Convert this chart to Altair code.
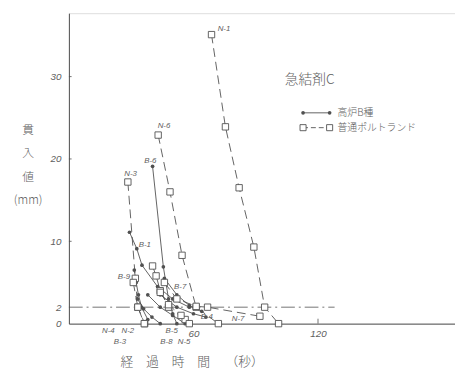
import altair as alt
import pandas as pd

# ---- data ----
BLAST = {  # 高炉B種: solid line, filled dots
    "B-1": ([29.2, 32.7, 35.2, 42.7, 50.0, 58.0], [11.1, 9.1, 7.1, 4.5, 3.0, 2.0]),
    "B-6": ([40.3, 45.5, 48.0, 50.0, 52.0], [19.1, 6.9, 3.0, 1.2, 0.0]),
    "B-9": ([31.5, 32.4, 33.5, 35.0, 38.0], [6.5, 5.0, 3.5, 2.0, 0.5]),
    "B-7": ([46.0, 52.0, 58.0, 64.0], [5.5, 3.5, 2.2, 1.5]),
    "B-4": ([44.0, 52.0, 60.0, 66.0], [3.5, 2.0, 1.2, 0.8]),
    "B-3": ([33.0, 36.0, 40.0, 44.0], [3.0, 1.8, 0.8, 0.0]),
    "B-8": ([38.0, 44.0, 50.0, 56.0], [3.5, 2.0, 1.0, 0.0]),
}
PORTLAND = {  # 普通ポルトランド: dashed line, open squares
    "N-1": ([68.7, 75.4, 82.0, 89.1, 94.3, 101.0], [35.1, 23.9, 16.5, 9.3, 2.0, 0.0]),
    "N-3": ([28.4, 32.0, 33.2, 36.5], [17.2, 5.5, 2.0, 0.0]),
    "N-6": ([43.0, 48.7, 54.5, 61.3, 72.0], [22.9, 16.0, 8.3, 2.0, 0.0]),
    "N-2": ([40.3, 42.0, 44.0, 48.0, 56.0], [7.0, 5.8, 4.0, 2.0, 0.5]),
    "N-4": ([31.0, 33.2, 36.3], [5.0, 2.0, 0.0]),
    "N-5": ([44.0, 48.0, 54.0, 58.0], [3.8, 2.3, 1.0, 0.0]),
    "N-7": ([46.0, 52.0, 61.3, 66.8, 92.0], [5.0, 3.0, 2.1, 2.0, 0.9]),
}
LABELS = ["N-1", "N-6", "B-6", "N-3", "B-1", "B-9", "B-7", "B-4", "N-7",
          "N-4", "N-2", "B-5", "B-3", "B-8", "N-5"]
LABEL_T = [74.7, 45.8, 39.2, 29.7, 36.6, 26.5, 53.6, 66.4, 81.5,
           19.0, 28.4, 49.5, 24.6, 47.0, 55.5]
LABEL_V = [35.8, 24.0, 19.8, 18.2, 9.6, 5.6, 4.5, 0.8, 0.5,
           -0.9, -0.9, -0.9, -2.2, -2.2, -2.2]
Y_TICKS = [0, 2, 10, 20, 30]
X_TICKS = [60, 120]
REF_LEVEL = 2
REF_END = 128
TITLE = "急結剤C"
LEGEND_NAMES = ["高炉B種", "普通ポルトランド"]

INK = "#505050"
TXT = "#606060"

rows = []
for grp, d in (("B", BLAST), ("N", PORTLAND)):
    for name, (ts, vs) in d.items():
        for i, (t, v) in enumerate(zip(ts, vs)):
            rows.append({"series": name, "grp": grp, "t": t, "v": v, "o": i})
df = pd.DataFrame(rows)

xs = alt.Scale(domain=[0, 186], nice=False)
ys = alt.Scale(domain=[0, 37.7], nice=False)

base = alt.Chart(df)

blast_line = base.transform_filter(alt.datum.grp == "B").mark_line(
    color=INK, strokeWidth=0.9
).encode(
    x=alt.X("t:Q", scale=xs, axis=alt.Axis(
        values=X_TICKS, title="経　過　時　間　 （秒）", domainColor=INK, domainWidth=1,
        tickSize=0, labelPadding=5, grid=False, labelFont="Liberation Sans",
        labelFontStyle="italic", labelFontSize=10, labelColor=TXT,
        titleFont="Noto Sans CJK JP", titleFontSize=13, titleFontWeight=300,
        titleColor=TXT, titleX=125, titleY=39, titleBaseline="middle")),
    y=alt.Y("v:Q", scale=ys, axis=alt.Axis(
        values=Y_TICKS, title=["貫", "入", "値", "(mm)"], titleAngle=0,
        titleX=-42, titleY=113, titleAlign="center", titleBaseline="top",
        titleLineHeight=24, titleFont="Noto Sans CJK JP", titleFontSize=12,
        titleFontWeight=300, titleColor=TXT, domainColor=INK, domainWidth=1,
        tickSize=0, labelPadding=8, grid=False, labelFont="Liberation Sans",
        labelFontStyle="italic", labelFontSize=10, labelColor=TXT)),
    detail="series:N", order="o:Q",
)
blast_pts = base.transform_filter(alt.datum.grp == "B").mark_point(
    shape="circle", filled=True, color=INK, size=14, opacity=1
).encode(x=alt.X("t:Q", scale=xs), y=alt.Y("v:Q", scale=ys))

port_line = base.transform_filter(alt.datum.grp == "N").mark_line(
    color=INK, strokeWidth=0.9, strokeDash=[9, 5]
).encode(x=alt.X("t:Q", scale=xs), y=alt.Y("v:Q", scale=ys),
         detail="series:N", order="o:Q")
port_pts = base.transform_filter(alt.datum.grp == "N").mark_point(
    shape="square", filled=True, fill="white", stroke=INK, strokeWidth=0.9,
    size=42, opacity=1
).encode(x=alt.X("t:Q", scale=xs), y=alt.Y("v:Q", scale=ys))

ref = alt.Chart(pd.DataFrame({"t": [0], "t2": [REF_END], "v": [REF_LEVEL]})).mark_rule(
    color=INK, strokeWidth=0.8, strokeDash=[14, 4, 2, 4]
).encode(x=alt.X("t:Q", scale=xs), x2="t2:Q", y=alt.Y("v:Q", scale=ys))

yticks = alt.Chart(pd.DataFrame({"v": [10, 20, 30]})).mark_rule(
    color=INK, strokeWidth=0.8
).encode(x=alt.datum(0, scale=xs), x2=alt.datum(1.3), y=alt.Y("v:Q", scale=ys))
xticks = alt.Chart(pd.DataFrame({"t": [120]})).mark_rule(
    color=INK, strokeWidth=0.8
).encode(x=alt.X("t:Q", scale=xs), y=alt.datum(0, scale=ys), y2=alt.datum(0.6))

lab_df = pd.DataFrame({"label": LABELS, "t": LABEL_T, "v": LABEL_V})
labels = alt.Chart(lab_df).mark_text(
    font="Liberation Sans", fontStyle="italic", fontSize=8, color=TXT, align="center"
).encode(x=alt.X("t:Q", scale=xs), y=alt.Y("v:Q", scale=ys), text="label:N")

title = alt.Chart(pd.DataFrame({"t": [116], "v": [29.6], "s": [TITLE]})).mark_text(
    font="Noto Sans CJK JP", fontSize=14, fontWeight=300, color=TXT, align="center"
).encode(x=alt.X("t:Q", scale=xs), y=alt.Y("v:Q", scale=ys), text="s:N")

# legend built from the same data scales
leg_line = pd.DataFrame({"grp": ["B", "B", "N", "N"], "t": [112.8, 125.6, 112.8, 125.6],
                         "v": [25.6, 25.6, 23.8, 23.8]})
leg_b = alt.Chart(leg_line).transform_filter(alt.datum.grp == "B")
leg_n = alt.Chart(leg_line).transform_filter(alt.datum.grp == "N")
lb_line = leg_b.mark_line(color=INK, strokeWidth=0.9).encode(
    x=alt.X("t:Q", scale=xs), y=alt.Y("v:Q", scale=ys))
lb_pts = leg_b.mark_point(shape="circle", filled=True, color=INK, size=14, opacity=1).encode(
    x=alt.X("t:Q", scale=xs), y=alt.Y("v:Q", scale=ys))
ln_line = leg_n.mark_line(color=INK, strokeWidth=0.9, strokeDash=[5, 3]).encode(
    x=alt.X("t:Q", scale=xs), y=alt.Y("v:Q", scale=ys))
ln_pts = leg_n.mark_point(shape="square", filled=True, fill="white", stroke=INK,
                          strokeWidth=0.9, size=38, opacity=1).encode(
    x=alt.X("t:Q", scale=xs), y=alt.Y("v:Q", scale=ys))
leg_txt = alt.Chart(pd.DataFrame({"t": [129.4, 129.4], "v": [25.6, 23.8],
                                  "s": LEGEND_NAMES})).mark_text(
    font="Noto Sans CJK JP", fontSize=10, fontWeight=300, color=TXT, align="left",
    baseline="middle"
).encode(x=alt.X("t:Q", scale=xs), y=alt.Y("v:Q", scale=ys), text="s:N")

chart = alt.layer(
    blast_line, port_line, ref, yticks, xticks, blast_pts, port_pts, labels, title,
    lb_line, ln_line, lb_pts, ln_pts, leg_txt
).properties(
    width=393, height=316, autosize="none",
    padding={"left": 62, "top": 2, "right": 0, "bottom": 50},
).configure_view(stroke=None).configure(background="white")

chart.save("out.html", embed_options={"renderer": "svg", "actions": False})
